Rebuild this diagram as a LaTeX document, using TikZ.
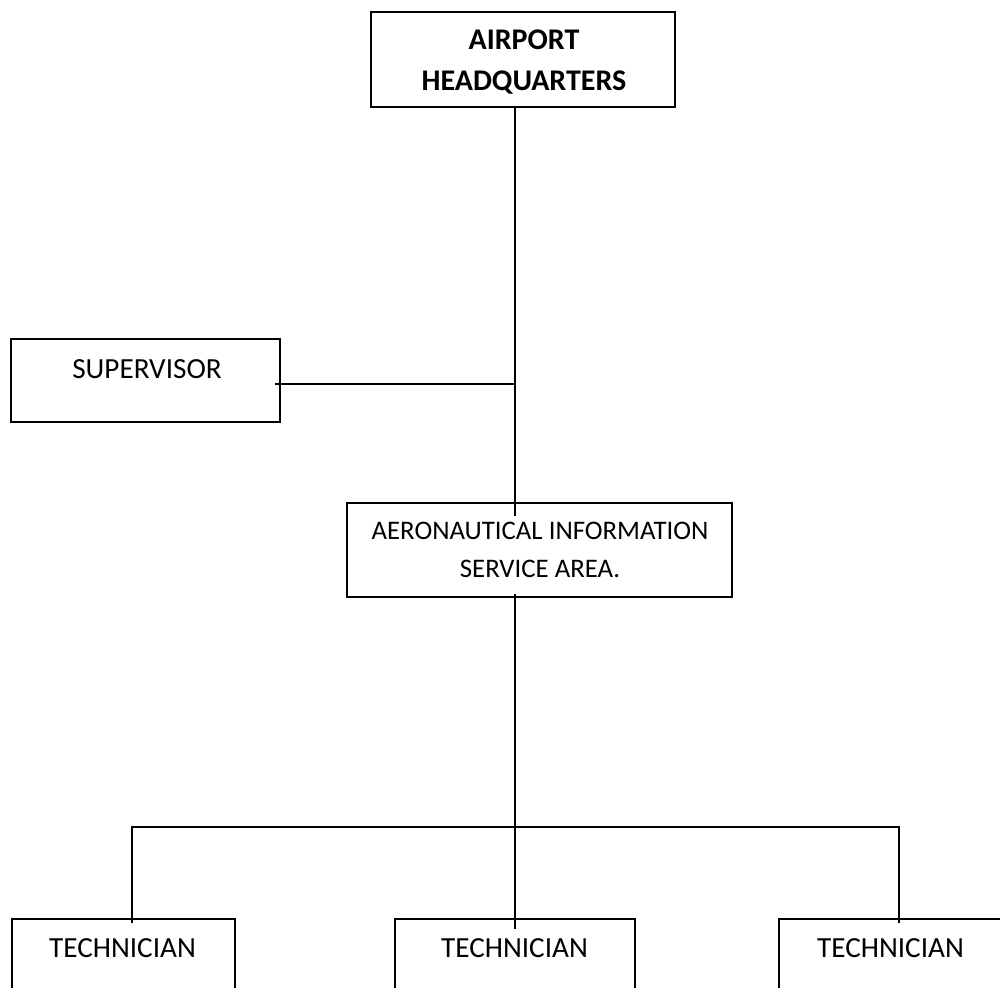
\documentclass[tikz,border=0pt]{standalone}
\usepackage{fontspec}
\setmainfont{Carlito}
\begin{document}
\begin{tikzpicture}[x=1pt,y=-1pt,
  box/.style={draw, line width=1.7pt, inner sep=0pt},
  conn/.style={line width=1.4pt},
  lbl/.style={font=\fontsize{29.2}{41}\selectfont, align=center, inner sep=0pt},
  lblb/.style={font=\fontsize{30}{41}\selectfont\bfseries, align=center, inner sep=0pt},
  lbls/.style={font=\fontsize{26.8}{38}\selectfont, align=center, inner sep=0pt}]
\useasboundingbox (0,0) rectangle (1000,987);
\clip (0,0) rectangle (1000,987);
% boxes
\node[box, minimum width=304pt, minimum height=95pt] (hq) at (523,59.5) {};
\node[lblb] (hqt) at (524,62) {AIRPORT\\HEADQUARTERS};
\node[box, minimum width=269pt, minimum height=83pt] (sup) at (145.5,380.5) {};
\node[lbl] (supt) at (147,369) {SUPERVISOR};
\node[box, minimum width=385pt, minimum height=94pt] (ais) at (539.5,550) {};
\node[lbls] (aist) at (540,550) {AERONAUTICAL INFORMATION\\SERVICE AREA.};
\node[box, minimum width=223pt, minimum height=140pt, anchor=north] (t1) at (123.5,918) {};
\node[box, minimum width=240pt, minimum height=140pt, anchor=north] (t2) at (515,918) {};
\node[box, minimum width=240pt, minimum height=140pt, anchor=north] (t3) at (899,918) {};
\node[lbl] (t1t) at (122.5,948) {TECHNICIAN};
\node[lbl] (t2t) at (514.5,948) {TECHNICIAN};
\node[lbl] (t3t) at (890.5,948) {TECHNICIAN};
% junction points
\coordinate (aisin) at (515,516);
\coordinate (aisout) at (515,594);
\coordinate (j) at (515,384);
\coordinate (supin) at (275,384);
\coordinate (bus) at (515,827);
\coordinate (d1) at (132,923);
\coordinate (d2) at (515,929);
\coordinate (d3) at (899,923);
% connectors
\draw[conn] (hq.south -| aisin) -- (aisin);
\draw[conn] (supin) -- (j);
\draw[conn] (aisout) -- (d2);
\draw[conn] (d1) -- (d1 |- bus) -- (d3 |- bus) -- (d3);
\end{tikzpicture}
\end{document}
